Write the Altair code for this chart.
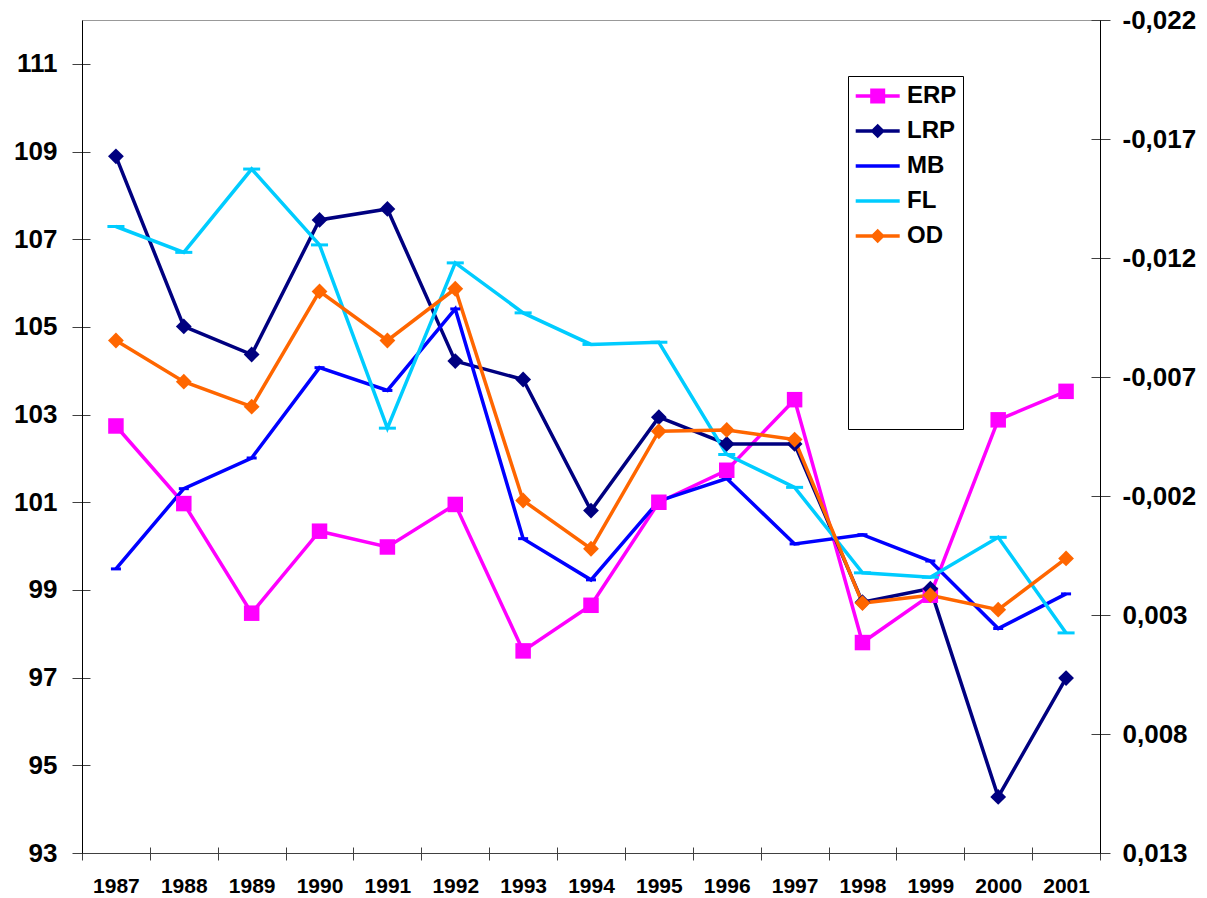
import altair as alt
import pandas as pd

years = list(range(1987, 2002))
series_names = ["ERP", "LRP", "MB", "FL", "OD"]
colors = ["#FF00FF", "#000080", "#0000FF", "#00CCFF", "#FF6600"]

erp = [102.74, 100.97, 98.47, 100.34, 99.98, 100.95, 97.61, 98.65, 101.00, 101.73, 103.34, 97.80, 98.88, 102.88, 103.53]
lrp = [108.89, 105.01, 104.37, 107.44, 107.69, 104.22, 103.80, 100.81, 102.94, 102.33, 102.33, 98.72, 99.03, 94.28, 96.99]
mb = [99.48, 101.31, 102.01, 104.07, 103.55, 105.41, 100.17, 99.23, 101.03, 101.54, 100.05, 100.26, 99.66, 98.12, 98.91]
fl = [107.29, 106.70, 108.60, 106.87, 102.69, 106.46, 105.32, 104.60, 104.65, 102.09, 101.34, 99.39, 99.29, 100.20, 98.02]
od = [104.69, 103.75, 103.18, 105.81, 104.69, 105.87, 101.04, 99.94, 102.62, 102.65, 102.43, 98.70, 98.88, 98.55, 99.72]

left_ticks = [93, 95, 97, 99, 101, 103, 105, 107, 109, 111]
right_ticks = [-0.022, -0.017, -0.012, -0.007, -0.002, 0.003, 0.008, 0.013]
boundaries = [y + 0.5 for y in range(1986, 2002)]

rows = []
for name, vals in zip(series_names, [erp, lrp, mb, fl, od]):
    for yr, v in zip(years, vals):
        rows.append({"year": yr, "value": v, "series": name})
df = pd.DataFrame(rows)

FONT = "Liberation Sans"

xscale = alt.Scale(domain=[1986.5, 2001.5], nice=False, zero=False)
yscale = alt.Scale(domain=[93, 112], nice=False, zero=False)
rscale = alt.Scale(domain=[-0.022, 0.013], reverse=True, nice=False, zero=False)
# extra unused entry keeps this (legend-less) scale apart from the legend's scales
cscale = alt.Scale(domain=series_names + ["_"], range=colors + ["#000000"])

# legend symbols (unit = 14 px): line plus marker, shifted right of the nominal centre
line_p = "M-0.878,-0.125H2.264V0.125H-0.878Z"
sq_p = "M0.157,-0.536H1.229V0.536H0.157Z"
dm_p = "M0.693,-0.52L1.213,0L0.693,0.52L0.173,0Z"
shape_range = [line_p + sq_p, line_p + dm_p, line_p, line_p, line_p + dm_p]

x_main = alt.X("year:Q", scale=xscale, axis=alt.Axis(
    values=years, format="d", ticks=False, tickSize=0, domain=True, orient="bottom",
    domainColor="#404040", domainWidth=1, labelFont=FONT, labelFontSize=21,
    labelFontWeight="bold", labelColor="black", labelPadding=22,
    labelFlush=False, labelOverlap=False, grid=False, title=None))
y_main = alt.Y("value:Q", scale=yscale, axis=alt.Axis(
    values=left_ticks, format="d", orient="left", domain=False, offset=-8,
    ticks=True, tickSize=18, tickColor="#404040", labelFont=FONT, labelFontSize=26,
    labelFontWeight="bold", labelColor="black", labelPadding=15,
    labelFlush=False, labelOverlap=False, grid=False, title=None))
color_nl = alt.Color("series:N", scale=cscale, legend=None)

base = alt.Chart(df)

lines = base.mark_line(strokeWidth=3.5).encode(x=x_main, y=y_main, color=color_nl, detail="series:N")

squares = base.transform_filter(alt.datum.series == "ERP").mark_point(
    shape="square", filled=True, size=240, opacity=1
).encode(x=x_main, y=y_main, color=color_nl)

diamonds = base.transform_filter(
    (alt.datum.series == "LRP") | (alt.datum.series == "OD")
).mark_point(shape="diamond", filled=True, size=250, opacity=1).encode(
    x=x_main, y=y_main, color=color_nl)

dash_fl = base.transform_filter(alt.datum.series == "FL").mark_point(
    shape="M-1,0H1", filled=False, size=290, strokeWidth=3, opacity=1
).encode(x=x_main, y=y_main, color=color_nl)

dash_mb = base.transform_filter(alt.datum.series == "MB").mark_point(
    shape="M-1,0H1", filled=False, size=100, strokeWidth=3, opacity=1
).encode(x=x_main, y=y_main, color=color_nl)

main = alt.layer(lines, dash_mb, dash_fl, squares, diamonds)

legend = alt.Legend(
    orient="none", legendX=766, legendY=56, direction="vertical",
    title=[" ", " ", " ", " ", " ", " "], titleOrient="bottom", titleFontSize=10,
    titleLineHeight=33, titlePadding=0,
    labelFont=FONT, labelFontSize=24, labelFontWeight="bold",
    labelColor="black", labelOffset=25, symbolSize=784, symbolStrokeWidth=0,
    rowPadding=9, padding=6, strokeColor="black", fillColor="white",
    symbolOpacity=1)

legend_layer = base.transform_filter("false").mark_point(filled=True, size=784).encode(
    x=alt.X("year:Q", scale=xscale, axis=alt.Axis(
        values=boundaries, labels=False, ticks=True, tickSize=13, orient="bottom", offset=-6,
        tickColor="#404040", domain=False, grid=False, title=None)),
    y=alt.Y("value:Q", scale=yscale, axis=alt.Axis(
        orient="left", domain=True, domainColor="black", domainWidth=1,
        ticks=False, labels=False, grid=False, title=None)),
    fill=alt.Fill("series:N", scale=alt.Scale(domain=series_names, range=colors), legend=legend),
    shape=alt.Shape("series:N", scale=alt.Scale(domain=series_names, range=shape_range), legend=legend),
)

inner = alt.layer(main, legend_layer).resolve_axis(x="independent", y="independent")

right_df = pd.DataFrame({"r": right_ticks})
right_layer = alt.Chart(right_df).transform_filter("false").mark_point().encode(
    y=alt.Y("r:Q", scale=rscale,
            axis=alt.Axis(
                values=right_ticks, orient="right", domain=False, offset=-9,
                ticks=True, tickSize=19, tickColor="#404040",
                labelFont=FONT, labelFontSize=26, labelFontWeight="bold",
                labelColor="black", labelPadding=12, labelFlush=False,
                labelOverlap=False, grid=False, title=None,
                labelExpr="(datum.value < 0 ? '-' : '') + replace(format(abs(datum.value), '.3f'), '.', ',')"))
)
right_domain = alt.Chart(right_df).transform_filter("false").mark_point().encode(
    y=alt.Y("r:Q", scale=rscale, axis=alt.Axis(
        orient="right", domain=True, domainColor="black", domainWidth=1,
        ticks=False, labels=False, grid=False, title=None))
)

chart = alt.layer(inner, right_layer, right_domain).resolve_scale(y="independent").properties(
    width=1018, height=833,
    autosize=alt.AutoSizeParams(type="none"),
    padding={"left": 74, "top": 12, "right": 99, "bottom": 42},
    background="white",
).configure_view(stroke="#999999", strokeWidth=1)

chart.save("out.html", embed_options={"renderer": "svg", "actions": False})
